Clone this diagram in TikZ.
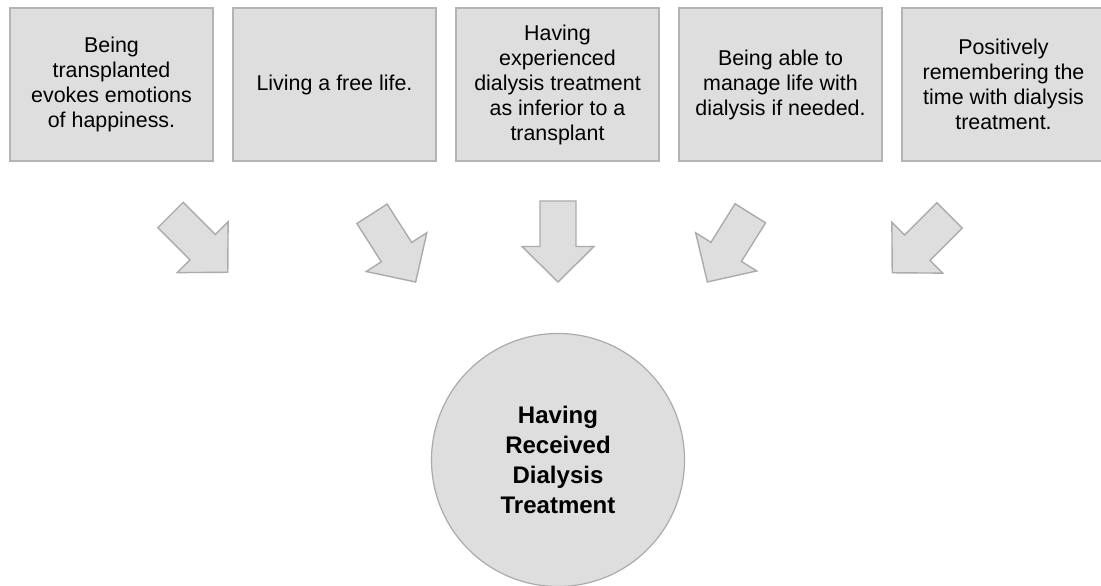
\documentclass[tikz,border=0pt]{standalone}
\usepackage{fontspec}
\setmainfont{Liberation Sans}
\definecolor{boxfill}{HTML}{DEDEDE}
\definecolor{boxline}{HTML}{B4B4B4}
\definecolor{arrowline}{HTML}{ABABAB}
\tikzset{
  theme/.style={rectangle, draw=boxline, fill=boxfill, line width=1.4pt,
    minimum width=203pt, minimum height=153pt, inner sep=0pt, align=center,
    font=\fontsize{21.4}{25}\selectfont},
  hub/.style={circle, draw=arrowline, fill=boxfill, line width=1.2pt,
    minimum size=253pt, inner sep=0pt, align=center,
    font=\bfseries\fontsize{24}{30}\selectfont},
  arrowstyle/.style={draw=arrowline, fill=boxfill, line width=1.4pt, line join=miter},
  % block arrow: tail centre at the origin, pointing along +x
  pics/blockarrow/.style={code={
    \draw[arrowstyle] (0,18) -- (45.5,18) -- (45.5,36) -- (81,0)
      -- (45.5,-36) -- (45.5,-18) -- (0,-18) -- cycle;}}
}
\begin{document}
\begin{tikzpicture}[x=1pt, y=1pt]
  \useasboundingbox (0,0) rectangle (1101,586);
  \clip (0,0) rectangle (1101,586);

  % five themes along the top
  \node[theme] (t1) at (111.5,501.5) {Being\\transplanted\\evokes emotions\\of happiness.};
  \node[theme] (t2) at (334.5,501.5) {Living a free life.};
  \node[theme] (t3) at (557.5,501.5) {Having\\experienced\\dialysis treatment\\as inferior to a\\transplant};
  \node[theme] (t4) at (780.5,501.5) {Being able to\\manage life with\\dialysis if needed.};
  \node[theme] (t5) at (1003.5,501.5) {Positively\\remembering the\\time with dialysis\\treatment.};

  % central theme
  \node[hub] (core) at (558,126) {Having\\Received\\Dialysis\\Treatment};

  % block arrows pointing towards the centre
  \coordinate (a1) at (170.5,371);
  \coordinate (a2) at (372,372.2);
  \coordinate (a3) at (558,385);
  \coordinate (a4) at (750.3,372.7);
  \coordinate (a5) at (949.5,370.5);
  \path (a1) pic[rotate=-45] {blockarrow};
  \path (a2) pic[rotate=-57.4] {blockarrow};
  \path (a3) pic[rotate=-90] {blockarrow};
  \path (a4) pic[rotate=-122] {blockarrow};
  \path (a5) pic[rotate=-135] {blockarrow};
\end{tikzpicture}
\end{document}
